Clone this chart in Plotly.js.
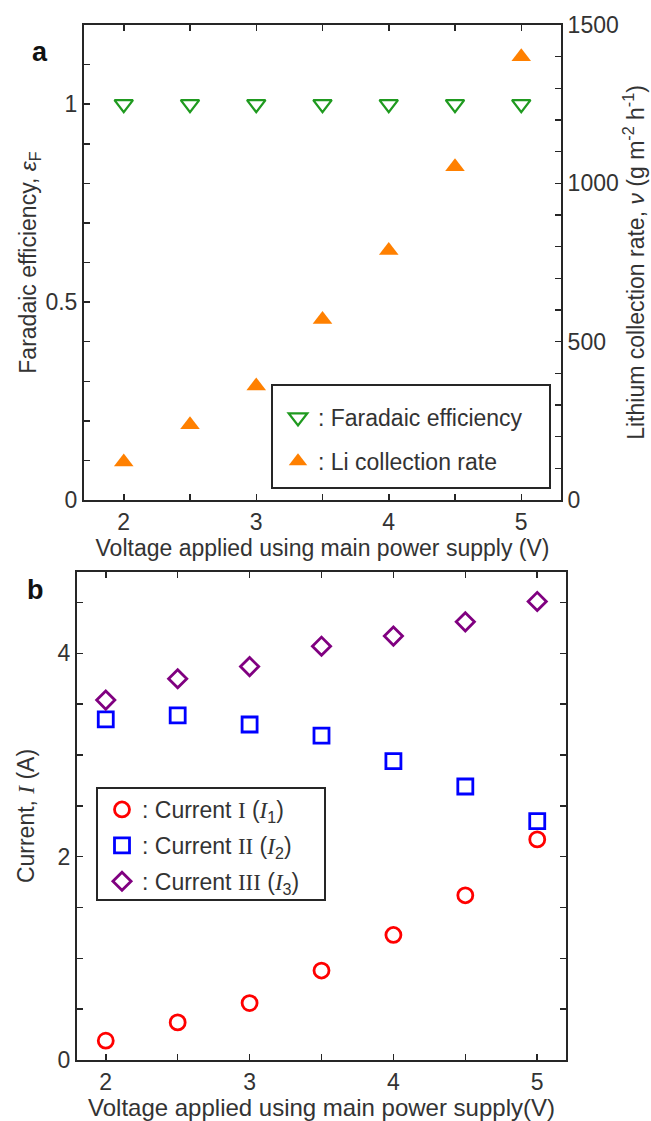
<!DOCTYPE html>
<html>
<head>
<meta charset="utf-8">
<script src="https://cdn.plot.ly/plotly-3.0.1.min.js"></script>
<style>html,body{margin:0;padding:0;background:#fff;}#chart{width:651px;height:1121px;}</style>
</head>
<body>
<div id="chart"></div>
<script>
// ---- data ----
const voltage = [2, 2.5, 3, 3.5, 4, 4.5, 5];
const faradaicEff = [1, 1, 1, 1, 1, 1, 1];
const liRate = [120, 238, 360, 570, 788, 1052, 1400];
const current1 = [0.19, 0.37, 0.56, 0.88, 1.23, 1.62, 2.17];
const current2 = [3.35, 3.39, 3.30, 3.19, 2.94, 2.69, 2.35];
const current3 = [3.54, 3.75, 3.87, 4.07, 4.17, 4.31, 4.51];
const seriesNamesA = [': Faradaic efficiency', ': Li collection rate'];
const serif = 'font-family:Liberation Serif';
const seriesNamesB = [
  ': Current <span style="' + serif + '">I</span> (<span style="' + serif + '"><i>I</i></span><sub>1</sub>)',
  ': Current <span style="' + serif + '">II</span> (<span style="' + serif + '"><i>I</i></span><sub>2</sub>)',
  ': Current <span style="' + serif + '">III</span> (<span style="' + serif + '"><i>I</i></span><sub>3</sub>)'
];
const xTitle = 'Voltage applied using main power supply (V)';
const xTitleB = 'Voltage applied using main power supply(V)';

// ---- layout helpers (pixels -> paper) ----
const W = 651, H = 1121;
const px = v => v / W;
const py = v => (H - v) / H;

const FONT = 'Arial, Liberation Sans, sans-serif';
const TXT = '#333333';
const LINE = '#262626';

const axisCommon = {
  showline: true, linecolor: LINE, linewidth: 2,
  ticks: 'inside', ticklen: 6, tickwidth: 1.5, tickcolor: LINE,
  showgrid: false, zeroline: false,
  tickfont: {family: FONT, size: 23, color: TXT},
  automargin: false
};

const traces = [
  {x: voltage, y: faradaicEff, xaxis: 'x', yaxis: 'y', type: 'scatter', mode: 'markers',
   name: seriesNamesA[0], legend: 'legend', legendgroup: 'fe',
   marker: {symbol: 'triangle-down-open', size: 16, color: '#1f9a1f', line: {width: 2.3, color: '#1f9a1f'}}},
  {x: voltage, y: liRate, xaxis: 'x', yaxis: 'y2', type: 'scatter', mode: 'markers',
   name: seriesNamesA[1], legend: 'legend', legendgroup: 'li',
   marker: {symbol: 'triangle-up', size: 17, color: '#ff8000'}},
  {x: voltage, y: current1, xaxis: 'x2', yaxis: 'y3', type: 'scatter', mode: 'markers',
   name: seriesNamesB[0], legend: 'legend2', legendgroup: 'i1',
   marker: {symbol: 'circle-open', size: 15, color: '#ff0000', line: {width: 2.8, color: '#ff0000'}}},
  {x: voltage, y: current2, xaxis: 'x2', yaxis: 'y3', type: 'scatter', mode: 'markers',
   name: seriesNamesB[1], legend: 'legend2', legendgroup: 'i2',
   marker: {symbol: 'square-open', size: 15, color: '#0000ff', line: {width: 2.8, color: '#0000ff'}}},
  {x: voltage, y: current3, xaxis: 'x2', yaxis: 'y3', type: 'scatter', mode: 'markers',
   name: seriesNamesB[2], legend: 'legend2', legendgroup: 'i3',
   marker: {symbol: 'diamond-open', size: 14, color: '#800080', line: {width: 2.8, color: '#800080'}}}
];

const layout = {
  width: W, height: H,
  margin: {l: 0, r: 0, t: 0, b: 0},
  paper_bgcolor: '#ffffff', plot_bgcolor: 'rgba(0,0,0,0)',
  font: {family: FONT, size: 23, color: TXT},
  showlegend: true,
  xaxis: Object.assign({}, axisCommon, {
    domain: [px(84), px(561)], range: [1.7, 5.3], dtick: 1, tick0: 0,
    mirror: 'allticks', anchor: 'y',
    minor: {dtick: 0.5, ticks: 'inside', ticklen: 6, tickcolor: LINE, tickwidth: 1.5},
    title: {text: xTitle, font: {family: FONT, size: 23, color: TXT}, standoff: 6}
  }),
  yaxis: Object.assign({}, axisCommon, {
    domain: [py(500), py(25)], range: [0, 1.2], dtick: 0.5, tick0: 0, anchor: 'x',
    minor: {dtick: 0.1, ticks: 'inside', ticklen: 6, tickcolor: LINE, tickwidth: 1.5},
    title: {text: 'Faradaic efficiency, <i>ε</i><sub>F</sub>', font: {family: FONT, size: 23, color: TXT}, standoff: 2}
  }),
  yaxis2: Object.assign({}, axisCommon, {
    overlaying: 'y', side: 'right', anchor: 'x',
    range: [0, 1500], dtick: 500, tick0: 0,
    minor: {dtick: 100, ticks: 'inside', ticklen: 6, tickcolor: LINE, tickwidth: 1.5},
    title: {text: 'Lithium collection rate, <i>ν</i> (g m<sup>-2</sup> h<sup>-1</sup>)', font: {family: FONT, size: 23, color: TXT}, standoff: 10}
  }),
  xaxis2: Object.assign({}, axisCommon, {
    domain: [px(77), px(566)], range: [1.8, 5.2], dtick: 1, tick0: 0,
    mirror: 'allticks', anchor: 'y3',
    minor: {dtick: 0.5, ticks: 'inside', ticklen: 6, tickcolor: LINE, tickwidth: 1.5},
    title: {text: xTitleB, font: {family: FONT, size: 24, color: TXT}, standoff: 6}
  }),
  yaxis3: Object.assign({}, axisCommon, {
    domain: [py(1060), py(572)], range: [0, 4.8], dtick: 2, tick0: 0,
    mirror: 'allticks', anchor: 'x2',
    minor: {dtick: 0.5, ticks: 'inside', ticklen: 6, tickcolor: LINE, tickwidth: 1.5},
    title: {text: 'Current, <span style="' + serif + '"><i>I</i></span> (A)', font: {family: FONT, size: 23, color: TXT}, standoff: 17}
  }),
  legend: {
    x: px(278), y: py(396), xanchor: 'left', yanchor: 'top',
    bgcolor: 'rgba(0,0,0,0)', borderwidth: 0,
    traceorder: 'grouped', tracegroupgap: 11,
    font: {family: FONT, size: 23, color: TXT}
  },
  legend2: {
    x: px(102), y: py(788), xanchor: 'left', yanchor: 'top',
    bgcolor: 'rgba(0,0,0,0)', borderwidth: 0,
    traceorder: 'grouped', tracegroupgap: 3,
    font: {family: FONT, size: 23, color: TXT}
  },
  shapes: [
    {type: 'rect', xref: 'paper', yref: 'paper', x0: px(272), x1: px(550), y0: py(488), y1: py(385),
     line: {color: LINE, width: 2}, fillcolor: 'rgba(0,0,0,0)'},
    {type: 'rect', xref: 'paper', yref: 'paper', x0: px(97), x1: px(325), y0: py(900), y1: py(788),
     line: {color: LINE, width: 2}, fillcolor: 'rgba(0,0,0,0)'}
  ],
  annotations: [
    {text: '<b>a</b>', xref: 'paper', yref: 'paper', x: px(40), y: py(52), showarrow: false,
     xanchor: 'center', yanchor: 'middle', font: {family: FONT, size: 27, color: '#111'}},
    {text: '<b>b</b>', xref: 'paper', yref: 'paper', x: px(35), y: py(590), showarrow: false,
     xanchor: 'center', yanchor: 'middle', font: {family: FONT, size: 27, color: '#111'}}
  ]
};

Plotly.newPlot('chart', traces, layout, {staticPlot: true, displayModeBar: false});
</script>
</body>
</html>
